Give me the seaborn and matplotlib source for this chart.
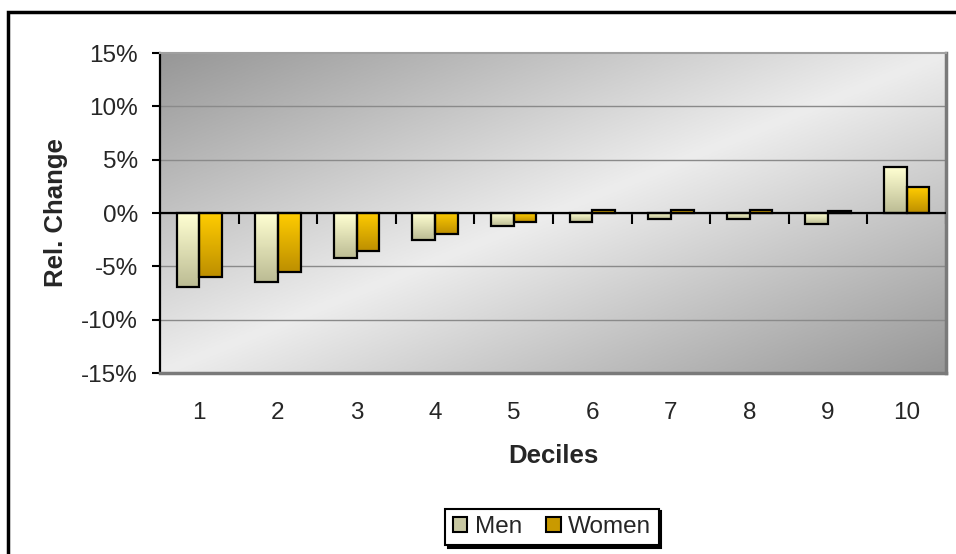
import numpy as np
import pandas as pd
import matplotlib
matplotlib.use("Agg")
import matplotlib.pyplot as plt
from matplotlib.patches import Rectangle, Patch
from matplotlib.colors import LinearSegmentedColormap
from matplotlib.ticker import FuncFormatter
import seaborn as sns

# data (relative change, %)
deciles = [str(i) for i in range(1, 11)]
men = [-6.9, -6.5, -4.2, -2.5, -1.2, -0.8, -0.6, -0.6, -1.0, 4.3]
women = [-6.0, -5.5, -3.6, -2.0, -0.8, 0.3, 0.3, 0.3, 0.2, 2.4]
series = ["Men", "Women"]
y_ticks = [-15, -10, -5, 0, 5, 10, 15]

df = pd.DataFrame({
    "Deciles": deciles * 2,
    "value": men + women,
    "sex": ["Men"] * len(deciles) + ["Women"] * len(deciles),
})

grad_top = {"Men": "#ffffd2", "Women": "#ffcc00"}
grad_bot = {"Men": "#bcbc94", "Women": "#bd8f00"}
legend_fill = {"Men": "#c8c8a2", "Women": "#c99a00"}

sns.set_theme(style="white")
plt.rcParams["font.family"] = ["Liberation Sans", "DejaVu Sans"]

fig = plt.figure(figsize=(9.56, 5.54), dpi=100)
ax = fig.add_axes([160 / 956, 1 - 373 / 554, 786 / 956, 320 / 554])

sns.barplot(data=df, x="Deciles", y="value", hue="sex", hue_order=series,
            width=0.58, ax=ax, legend=False, edgecolor="black", linewidth=1.6,
            zorder=3)

ax.set_xlim(-0.5, 9.5)
ax.set_ylim(-15, 15)

# plot area background: dark in two corners, light along the diagonal
u, v = np.meshgrid(np.linspace(0, 1, 300), np.linspace(1, 0, 200))
d = np.abs(u - v)
bg_cmap = LinearSegmentedColormap.from_list("bg", ["#ededed", "#979797"])
ax.imshow(d, cmap=bg_cmap, vmin=0, vmax=1, extent=[-0.5, 9.5, -15, 15],
          aspect="auto", zorder=0, interpolation="bilinear")

# gradient fills inside each bar
for name, cont in zip(series, ax.containers):
    cmap = LinearSegmentedColormap.from_list(name, [grad_top[name], grad_bot[name]])
    for bar in cont:
        x0 = bar.get_x()
        w = bar.get_width()
        y0 = min(bar.get_y(), bar.get_y() + bar.get_height())
        y1 = max(bar.get_y(), bar.get_y() + bar.get_height())
        grad = np.linspace(0, 1, 64).reshape(-1, 1)
        im = ax.imshow(grad, cmap=cmap, extent=[x0, x0 + w, y0, y1],
                       aspect="auto", origin="upper", zorder=2.5)
        im.set_clip_path(bar)
        bar.set_facecolor("none")

ax.set_xlim(-0.5, 9.5)
ax.set_ylim(-15, 15)

# gridlines
for yv in y_ticks[1:-1]:
    ax.axhline(yv, color="#8a8a8a", lw=1, zorder=1)
ax.axhline(0, color="black", lw=1.6, zorder=4)

# y axis
ax.set_yticks(y_ticks)
ax.yaxis.set_major_formatter(FuncFormatter(lambda val, pos: f"{val:.0f}%"))
ax.tick_params(axis="y", left=True, direction="out", length=6, width=1.5,
               color="black", pad=10, labelsize=17.5)
ax.set_ylabel("Rel. Change", fontsize=18.5, fontweight="bold", labelpad=9)

# x axis labels at the bottom, tick marks on the zero line
ax.set_xticks(range(len(deciles)))
ax.set_xticklabels(deciles)
ax.tick_params(axis="x", bottom=False, length=0, pad=21, labelsize=17.5)
ax.set_xlabel("Deciles", fontsize=18.5, fontweight="bold", labelpad=14)

zero_ax = ax.secondary_xaxis(0.5)
zero_ax.set_xticks(np.arange(0.5, 10, 1))
zero_ax.set_xticklabels([""] * 10)
zero_ax.tick_params(axis="x", direction="in", length=8, width=1.5, color="black")
zero_ax.spines["bottom"].set_visible(False)

for side in ["top", "right", "bottom", "left"]:
    ax.spines[side].set_visible(True)
ax.spines["left"].set_color("black")
ax.spines["left"].set_linewidth(1.6)
ax.spines["top"].set_color("#a0a0a0")
ax.spines["top"].set_linewidth(1.5)
ax.spines["right"].set_color("#7a7a7a")
ax.spines["right"].set_linewidth(2.5)
ax.spines["bottom"].set_color("#7a7a7a")
ax.spines["bottom"].set_linewidth(2.5)

# legend
handles = [Patch(facecolor=legend_fill[s], edgecolor="black", linewidth=1.5, label=s)
           for s in series]
leg = fig.legend(handles=handles, loc="center", bbox_to_anchor=(552 / 956, 1 - 527 / 554),
                 ncol=2, fontsize=17.5, frameon=True, fancybox=False,
                 shadow={"color": "black", "alpha": 1},
                 handlelength=0.6, handleheight=0.6, handletextpad=0.3,
                 columnspacing=1.0, borderpad=0.3)
leg.get_frame().set_edgecolor("black")
leg.get_frame().set_linewidth(1.5)
leg.get_frame().set_alpha(1)

# outer chart border
fig.add_artist(Rectangle((8 / 956, -0.1), 1.2, 1 - 12 / 554 + 0.1,
                         transform=fig.transFigure, fill=False,
                         edgecolor="black", linewidth=2.5))

fig.savefig("out.png", dpi=100)
